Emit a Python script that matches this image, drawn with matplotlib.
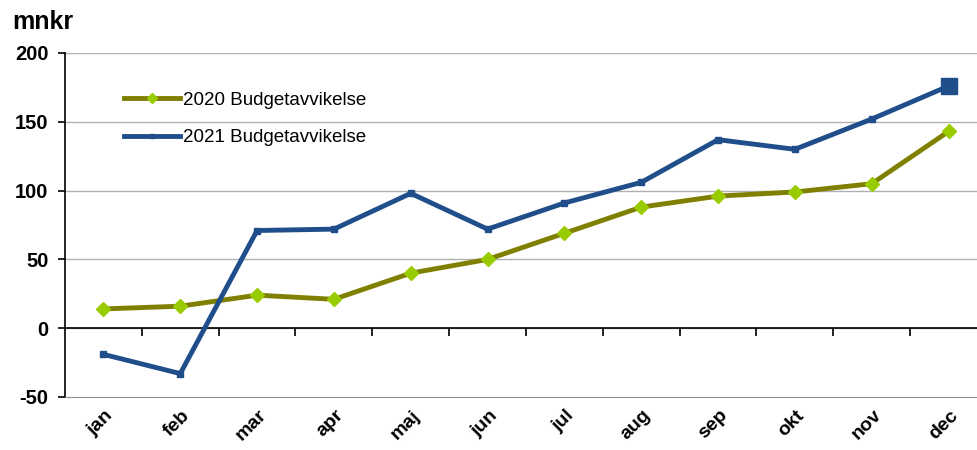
import matplotlib
matplotlib.use("Agg")
import matplotlib.pyplot as plt
import numpy as np
from matplotlib.ticker import FixedLocator
import matplotlib.transforms as mtransforms

plt.rcParams['font.family'] = ['Liberation Sans', 'DejaVu Sans']

months = ["jan", "feb", "mar", "apr", "maj", "jun", "jul", "aug", "sep", "okt", "nov", "dec"]
budget_2020 = [14, 16, 24, 21, 40, 50, 69, 88, 96, 99, 105, 143]
budget_2021 = [-19, -33, 71, 72, 98, 72, 91, 106, 137, 130, 152, 176]
label_2020 = "2020 Budgetavvikelse"
label_2021 = "2021 Budgetavvikelse"
yticks = [-50, 0, 50, 100, 150, 200]

green_line = "#808000"
green_marker = "#99cc00"
blue = "#1f4e8a"

fig = plt.figure(figsize=(9.78, 4.5), dpi=100)
ax = fig.add_axes([65/978, 53/450, 922/978, 344/450])

x = np.arange(len(months))
ax.plot(x, budget_2020, color=green_line, lw=3.5, marker='D', markersize=7,
        markerfacecolor=green_marker, markeredgecolor=green_marker, label=label_2020, zorder=3)
ax.plot(x, budget_2021, color=blue, lw=3.5, marker='s', markersize=4,
        markerfacecolor=blue, markeredgecolor=blue, label=label_2021, zorder=3)
ax.plot(x[-1:], budget_2021[-1:], color=blue, marker='s', markersize=12, ls='none', zorder=4)

ax.set_xlim(-0.5, len(months) - 0.5)
ax.set_ylim(-50, 200)
ax.set_yticks(yticks)
ax.set_yticklabels([str(v) for v in yticks], fontsize=14.5, fontweight='bold')
for v in yticks[1:]:
    ax.axhline(v, color='#b0b0b0', lw=1, zorder=1)

# spines
ax.spines['right'].set_visible(False)
ax.spines['bottom'].set_color('#909090')
ax.spines['left'].set_color('black')
ax.spines['left'].set_linewidth(1.2)
ax.spines['top'].set_position(('data', 0))
ax.spines['top'].set_color('black')
ax.spines['top'].set_linewidth(1.2)
ax.spines['top'].set_zorder(2)

ax.tick_params(axis='y', direction='out', length=5, width=1.2, pad=7)

# category labels at bottom, no tick marks
ax.set_xticks(x)
ax.set_xticklabels(months, fontsize=14, fontweight='bold', rotation=45, ha='right',
                   rotation_mode='anchor')
ax.tick_params(axis='x', which='major', bottom=True, length=0, pad=7, top=False)

# boundary ticks on zero line
ax.xaxis.set_minor_locator(FixedLocator(np.arange(0.5, len(months) - 0.5, 1)))
ax.tick_params(axis='x', which='minor', top=True, bottom=False, direction='in',
               length=6, width=1.2, labeltop=False)

for lbl in ax.get_xticklabels():
    lbl.set_transform(lbl.get_transform() + mtransforms.ScaledTranslation(1/100, 0, fig.dpi_scale_trans))

ax.legend(loc='upper left', bbox_to_anchor=(0.056, 0.91), frameon=False,
          fontsize=13.5, handlelength=3.0, handletextpad=0.15, labelspacing=1.1,
          borderaxespad=0, numpoints=1, markerscale=0.7)

fig.text(12/978, 1 - 22/450, "mnkr", fontsize=18, fontweight='bold', va='center', ha='left')

fig.savefig("out.png", dpi=100)
